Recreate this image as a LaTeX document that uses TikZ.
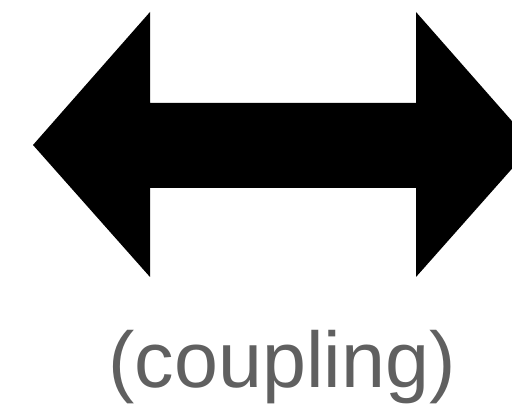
\documentclass[tikz,border=0pt]{standalone}
\usepackage{fontspec}
\setmainfont{Liberation Sans}
\definecolor{labelgray}{RGB}{96,96,96}
\tikzset{
  blockarrow/.style={fill=black, draw=none},
  caption/.style={text=labelgray, font=\fontsize{79}{90}\selectfont, inner sep=0pt, anchor=base}
}
\begin{document}
\begin{tikzpicture}[x=1pt,y=-1pt]
\useasboundingbox (0,0) rectangle (512,406);
\begin{scope}
\clip (0,0) rectangle (512,406);
\fill[blockarrow] (33,145) -- (150,12) -- (150,103) -- (416,103) -- (416,12) -- (533,145)
  -- (416,277) -- (416,188) -- (150,188) -- (150,277) -- cycle;
\end{scope}
\node[caption] (lbl) at (282,388) {(coupling)};
\end{tikzpicture}
\end{document}
